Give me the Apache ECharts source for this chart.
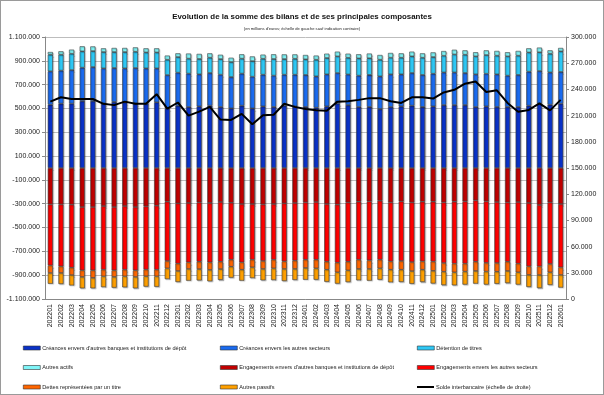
<!DOCTYPE html>
<html><head><meta charset="utf-8">
<script src="https://cdn.jsdelivr.net/npm/echarts@6/dist/echarts.min.js"></script>
<style>
html,body{margin:0;padding:0;background:#fff;}
#wrap{position:absolute;left:0;top:0;width:604px;height:395px;box-sizing:border-box;border:1px solid #9a9a9a;}
#c{position:absolute;left:0;top:0;width:604px;height:395px;}
</style></head>
<body><div id="c"></div><div id="wrap"></div>
<script>
// values in millions of euros (thousands shown here, scaled below)
const categories = ['202201','202202','202203','202204','202205','202206','202207','202208','202209','202210','202211','202212',
'202301','202302','202303','202304','202305','202306','202307','202308','202309','202310','202311','202312',
'202401','202402','202403','202404','202405','202406','202407','202408','202409','202410','202411','202412',
'202501','202502','202503','202504','202505','202506','202507','202508','202509','202510','202511','202512','202601'];

const creancesBanques = [532,541,541,563,563,541,555,552,541,541,552,501,524,513,518,524,513,501,524,501,518,513,524,518,513,507,518,541,529,513,513,496,513,518,524,513,518,529,529,529,513,518,513,513,513,524,541,532,541];
const creancesSecteurs = [280,277,282,280,285,296,285,285,299,296,285,280,277,280,269,274,271,263,269,266,266,263,260,266,269,263,269,257,257,263,269,274,274,269,274,269,274,274,274,269,274,274,274,263,269,285,274,271,266];
const detentionTitres = [140,134,137,137,134,137,134,137,137,134,134,129,131,126,129,129,131,126,126,131,134,140,131,134,131,140,137,140,140,145,140,140,140,140,140,145,140,140,151,154,151,157,157,162,162,162,157,157,173];
const autresActifs = [22,28,34,42,39,31,34,34,36,34,34,34,31,42,42,36,36,36,36,39,34,39,39,36,36,34,36,39,34,34,39,39,39,36,39,36,39,39,39,36,34,39,39,34,39,34,39,28,28];
const engagementsBanques = [306,306,308,328,328,320,328,320,328,322,317,283,297,294,289,294,286,292,303,303,306,303,297,294,289,286,303,308,289,283,280,275,289,280,289,283,283,289,283,280,272,280,286,289,286,294,311,289,303];
const engagementsSecteurs = [512,520,529,531,531,534,531,534,531,531,537,498,506,498,498,498,501,478,489,467,475,467,487,484,481,484,484,487,498,487,495,495,495,501,501,501,503,509,520,523,515,517,512,498,517,531,515,517,531];
const dettesTitre = [64,56,62,56,64,56,56,56,56,56,56,62,62,56,62,64,62,59,62,64,67,73,64,70,70,73,67,81,73,78,73,73,70,73,76,70,78,73,73,67,78,73,73,78,73,73,73,70,64];
const autresPassifs = [90,92,87,95,87,90,90,92,95,87,87,90,92,98,95,95,90,92,92,90,95,98,101,92,98,95,101,95,98,95,98,95,106,103,106,103,106,112,109,109,106,109,101,101,103,101,109,106,106];
const soldeInterbancaire = [226,231,229,229,229,223.5,222,226,223.5,223.5,234.5,218,225,210,214.5,220,205.5,205,212,200,210.5,211,223.5,220,217.5,216,215.5,226,226.5,228,230,230,226.5,224.5,231,231,229.5,236.5,239.5,246.5,249,237,239,224.5,214.5,216.5,224,216,228];

const leftTicks = {min:-1100000, max:1100000, interval:200000};
const rightTicks = {min:0, max:300000, interval:30000};

const names = [
 "Créances envers d'autres banques et institutions de dépôt",
 "Créances envers les autres secteurs",
 "Détention de titres",
 "Autres actifs",
 "Engagements envers d'autres banques et institutions de dépôt",
 "Engagements envers les autres secteurs",
 "Dettes représentées par un titre",
 "Autres passifs",
 "Solde interbancaire (échelle de droite)"
];
const colors = ['#0A32C8','#1A6BF0','#2EC8F5','#7FF5F8','#C00000','#FF0000','#FF6600','#FFA000','#000000'];

function fmt(v){
  const neg = v < 0; let s = String(Math.round(Math.abs(v)));
  s = s.replace(/\B(?=(\d{3})+(?!\d))/g, '.');
  return (neg ? '-' : '') + s;
}
const scale = a => a.map(v => v*1000);
const neg = a => a.map(v => -v*1000);
const barData = [scale(creancesBanques), scale(creancesSecteurs), scale(detentionTitres), scale(autresActifs),
  neg(engagementsBanques), neg(engagementsSecteurs), neg(dettesTitre), neg(autresPassifs)];

const series = barData.map((d,i)=>({
  name: names[i], type:'bar', stack:'total', data:d, barWidth:'48%',
  itemStyle:{color:colors[i], borderColor:'#3a3a3a', borderWidth:0.6,
    shadowColor:'rgba(0,0,0,0.25)', shadowOffsetX:1, shadowOffsetY:1, shadowBlur:1},
  emphasis:{disabled:true}, animation:false
}));
series.push({name:names[8], type:'line', yAxisIndex:1, data:scale(soldeInterbancaire),
  symbol:'none', lineStyle:{color:'#000', width:2}, itemStyle:{color:'#000'}, z:10, animation:false});

const legX = [18, 215, 412];
const legY = [340, 359.5, 379];
const legends = names.map((n,i)=>({
  show:true, data:[n], left:legX[i%3], top:legY[Math.floor(i/3)],
  itemWidth:17, itemHeight: i===8 ? 2 : 4, itemGap:2, icon:'rect', selectedMode:false,
  textStyle:{fontSize:5.6, color:'#222', fontFamily:'Liberation Sans', padding:[0,0,0,-3]},
  itemStyle: i===8 ? {borderWidth:0} : {borderColor:'#333', borderWidth:0.6}
}));

const chart = echarts.init(document.getElementById('c'), null, {renderer:'canvas'});
chart.setOption({
  backgroundColor:'#fff',
  animation:false,
  title:[
    {text:'Evolution de la somme des bilans et de ses principales composantes', left:'center', top:8,
     textStyle:{fontSize:7.9, fontWeight:'bold', color:'#111', fontFamily:'Liberation Sans'}},
    {text:"(en millions d'euros; échelle de gauche sauf indication contraire)", left:'center', top:22,
     textStyle:{fontSize:4.1, fontWeight:'normal', color:'#222', fontFamily:'Liberation Sans'}}
  ],
  legend: legends,
  grid:{left:45, right:38, top:37, bottom:96, containLabel:false},
  xAxis:{type:'category', data:categories, boundaryGap:true,
    axisLine:{onZero:false, lineStyle:{color:'#888'}}, axisTick:{show:false},
    axisLabel:{interval:0, rotate:90, fontSize:7, color:'#222', fontFamily:'Liberation Sans', margin:5}},
  yAxis:[
    {type:'value', min:leftTicks.min, max:leftTicks.max, interval:leftTicks.interval,
     axisLine:{show:true, lineStyle:{color:'#888'}}, axisTick:{show:true, length:3, lineStyle:{color:'#888'}},
     splitLine:{show:true, lineStyle:{color:'#bdbdbd', width:1}},
     axisLabel:{formatter:fmt, fontSize:7, color:'#222', fontFamily:'Liberation Sans', margin:5}},
    {type:'value', min:rightTicks.min, max:rightTicks.max, interval:rightTicks.interval, position:'right',
     axisLine:{show:true, lineStyle:{color:'#888'}}, axisTick:{show:true, length:3, lineStyle:{color:'#888'}},
     splitLine:{show:false},
     axisLabel:{formatter:fmt, fontSize:7, color:'#222', fontFamily:'Liberation Sans', margin:5}}
  ],
  series: series
});
</script></body></html>
